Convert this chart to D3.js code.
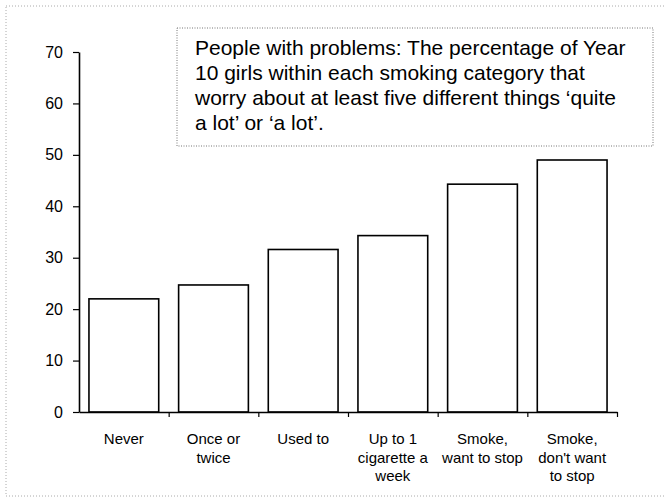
<!DOCTYPE html>
<html>
<head>
<meta charset="utf-8">
<script src="https://cdn.jsdelivr.net/npm/d3@7"></script>
<style>
  body { margin: 0; background: #fff; }
  svg { display: block; font-family: "Liberation Sans", Arial, sans-serif; }
</style>
</head>
<body>
<div id="chart"></div>
<script>
// categories (multi-line labels) and values
const categories = ['Never', 'Once or twice', 'Used to', 'Up to 1 cigarette a week', 'Smoke, want to stop', "Smoke, don't want to stop"];
const categoryLines = [
  ['Never'],
  ['Once or', 'twice'],
  ['Used to'],
  ['Up to 1', 'cigarette a', 'week'],
  ['Smoke,', 'want to stop'],
  ['Smoke,', "don't want", 'to stop']
];
const percentages = [22, 24.7, 31.6, 34.3, 44.3, 49];
const yTicks = [0, 10, 20, 30, 40, 50, 60, 70];
const titleLines = [
  'People with problems: The percentage of Year',
  '10 girls within each smoking category that',
  'worry about at least five different things \u2018quite',
  'a lot\u2019 or \u2018a lot\u2019.'
];

const width = 665, height = 500;
const plot = {left: 79, right: 617, top: 52, bottom: 412};

const svg = d3.select('#chart').append('svg')
  .attr('width', width)
  .attr('height', height);

// faint dotted page frame (scan border)
svg.append('rect')
  .attr('x', 6).attr('y', 6)
  .attr('width', width + 10).attr('height', 490)
  .attr('fill', 'none')
  .attr('stroke', '#aaa')
  .attr('stroke-width', 1)
  .attr('stroke-dasharray', '1,2');

//scales
const xScale = d3.scaleBand()
  .domain(categories)
  .range([plot.left, plot.right])
  .paddingInner(0.222)
  .paddingOuter(0.111);

const yScale = d3.scaleLinear()
  .domain([0, 70])
  .range([plot.bottom, plot.top]);

// boundaries between categories for x ticks
const edgeScale = d3.scaleLinear()
  .domain([0, categories.length])
  .range([plot.left, plot.right]);

//bars
svg.selectAll('rect.bar')
  .data(percentages)
  .enter().append('rect')
  .attr('class', 'bar')
  .attr('x', (d, i) => xScale(categories[i]))
  .attr('y', (d) => yScale(d))
  .attr('width', xScale.bandwidth())
  .attr('height', (d) => yScale(0) - yScale(d))
  .attr('fill', '#fff')
  .attr('stroke', '#000')
  .attr('stroke-width', 1.6);

//y axis
const yAxis = d3.axisLeft(yScale)
  .tickValues(yTicks)
  .tickSize(6)
  .tickSizeOuter(0)
  .tickPadding(10)
  .tickFormat(d3.format('d'));

const gy = svg.append('g')
  .attr('transform', `translate(${plot.left},0)`)
  .call(yAxis);
gy.select('.domain').attr('stroke', '#000').attr('stroke-width', 1.6);
gy.selectAll('.tick line').attr('stroke', '#000').attr('stroke-width', 1.2);
gy.selectAll('.tick text')
  .attr('font-size', 16)
  .attr('font-family', '"Liberation Sans", Arial, sans-serif')
  .attr('fill', '#000');

//x axis: line with ticks on category boundaries, labels centred under bars
const xAxis = d3.axisBottom(edgeScale)
  .tickValues(d3.range(1, categories.length + 1))
  .tickSize(5)
  .tickSizeOuter(0)
  .tickFormat('');

const gx = svg.append('g')
  .attr('transform', `translate(0,${plot.bottom})`)
  .call(xAxis);
gx.select('.domain').attr('stroke', '#000').attr('stroke-width', 1.6);
gx.selectAll('.tick line').attr('stroke', '#000').attr('stroke-width', 1.2);

const labels = svg.selectAll('text.cat')
  .data(categoryLines)
  .enter().append('text')
  .attr('class', 'cat')
  .attr('text-anchor', 'middle')
  .attr('font-size', 15)
  .attr('fill', '#000')
  .attr('transform', (d, i) => `translate(${xScale(categories[i]) + xScale.bandwidth() / 2},${plot.bottom + 32})`);

labels.selectAll('tspan')
  .data((d) => d)
  .enter().append('tspan')
  .attr('x', 0)
  .attr('y', (d, i) => i * 18.5)
  .text((d) => d);

//title box
svg.append('rect')
  .attr('x', 177).attr('y', 28)
  .attr('width', 476).attr('height', 118)
  .attr('fill', '#fff')
  .attr('stroke', '#777')
  .attr('stroke-width', 1)
  .attr('stroke-dasharray', '1,1.5');

svg.append('g').selectAll('text')
  .data(titleLines)
  .enter().append('text')
  .attr('x', 195)
  .attr('y', (d, i) => 55 + i * 25)
  .attr('font-size', 21)
  .attr('fill', '#000')
  .text((d) => d);
</script>
</body>
</html>
